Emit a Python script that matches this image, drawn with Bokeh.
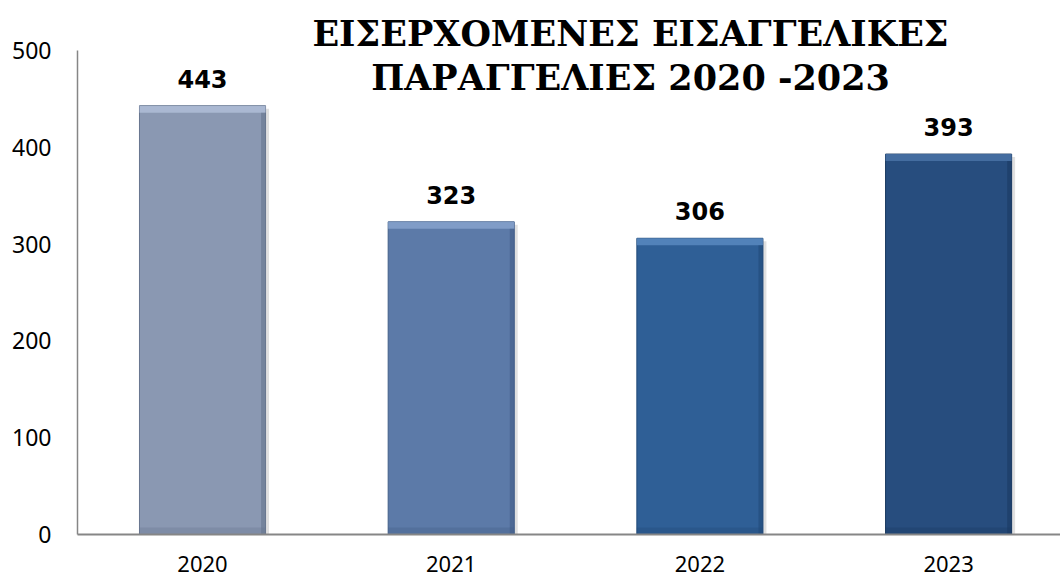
from bokeh.plotting import figure
from bokeh.models import Range1d, FixedTicker, Label, ColumnDataSource
from bokeh.embed import file_html
from bokeh.resources import INLINE
from bokeh.core.properties import value

# ---- data ----
years = ["2020", "2021", "2022", "2023"]
orders = [443, 323, 306, 393]
bar_colors = ["#8A98B2", "#5C7AA8", "#2F5F96", "#274D7E"]
top_colors = ["#B4C3DC", "#8CA8D2", "#5F8DC4", "#4F78AC"]
edge_colors = ["#66758E", "#425E88", "#224A78", "#1B3A62"]
title_lines = ["ΕΙΣΕΡΧΟΜΕΝΕΣ ΕΙΣΑΓΓΕΛΙΚΕΣ", "ΠΑΡΑΓΓΕΛΙΕΣ 2020 -2023"]
y_ticks = [0, 100, 200, 300, 400, 500]

BW = 0.507
PX = 500 / 484.0  # data units per pixel on the y scale

xs = list(range(len(years)))
src = ColumnDataSource(dict(
    x=xs, top=orders, color=bar_colors, topc=top_colors, edge=edge_colors,
    label=[str(v) for v in orders],
    hl_bottom=[v - 7 * PX for v in orders],
    left=[x - BW / 2 for x in xs], right=[x + BW / 2 for x in xs],
    edge_left=[x + BW / 2 - 0.018 for x in xs],
    sh_left=[x - BW / 2 + 0.01 for x in xs], sh_right=[x + BW / 2 + 0.014 for x in xs],
    sh_top=[v - 3 * PX for v in orders],
    zero=[0] * len(xs), bot_top=[7 * PX] * len(xs),
))

p = figure(width=1060, height=579, output_backend="svg", toolbar_location=None,
           x_range=Range1d(-0.5027, 3.450), y_range=Range1d(0, 534 * PX),
           min_border_left=77, min_border_right=0, min_border_top=0, min_border_bottom=45)
p.outline_line_color = None
p.xgrid.visible = False
p.ygrid.visible = False

# soft shadow
p.quad(left="sh_left", right="sh_right", top="sh_top", bottom="zero", source=src,
       fill_color="#000000", fill_alpha=0.12, line_color=None)
# main bar
p.quad(left="left", right="right", top="top", bottom="zero", source=src,
       fill_color="color", line_color="edge", line_width=1)
# top bevel highlight
p.quad(left="left", right="right", top="top", bottom="hl_bottom", source=src,
       fill_color="topc", fill_alpha=0.75, line_color=None)
# right edge darker
p.quad(left="edge_left", right="right", top="hl_bottom", bottom="zero", source=src,
       fill_color="edge", fill_alpha=0.6, line_color=None)
# bottom band darker
p.quad(left="left", right="right", top="bot_top", bottom="zero", source=src,
       fill_color="edge", fill_alpha=0.35, line_color=None)

# value labels
p.text(x="x", y="top", text="label", source=src, text_align="center", text_baseline="middle",
       y_offset=-27, text_font=value("DejaVu Sans"), text_font_style="bold",
       text_font_size="24px", text_color="#000000")

# title
for i, line in enumerate(title_lines):
    p.add_layout(Label(x=1.721, y=(534 - 33) * PX - i * 44 * PX, text=line, text_align="center",
                       text_baseline="middle", text_font="DejaVu Serif", text_font_style="bold",
                       text_font_size="35px", text_color="#000000"))

# axes
p.yaxis.ticker = FixedTicker(ticks=y_ticks)
p.yaxis.bounds = (0, 500)
p.yaxis.major_tick_line_color = None
p.yaxis.minor_tick_line_color = None
p.yaxis.axis_line_color = "#868686"
p.yaxis.axis_line_width = 1.5
p.yaxis.major_label_text_font = "Noto Sans"
p.yaxis.major_label_text_font_size = "23px"
p.yaxis.major_label_text_color = "#000000"
p.yaxis.major_label_standoff = 20

p.xaxis.ticker = FixedTicker(ticks=xs)
p.xaxis.major_label_overrides = {i: y for i, y in enumerate(years)}
p.xaxis.major_tick_line_color = None
p.xaxis.minor_tick_line_color = None
p.xaxis.axis_line_color = "#868686"
p.xaxis.axis_line_width = 2
p.xaxis.major_label_text_font = "Noto Sans"
p.xaxis.major_label_text_font_size = "22px"
p.xaxis.major_label_text_color = "#000000"
p.xaxis.major_label_standoff = 15

open("out.html", "w").write(file_html(p, INLINE))
